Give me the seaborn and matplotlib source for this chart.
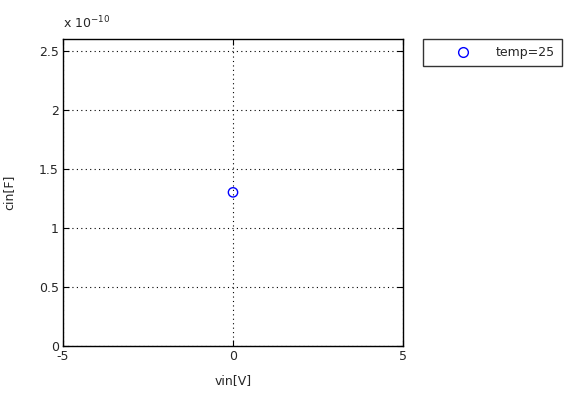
import matplotlib
matplotlib.use("Agg")
import matplotlib.pyplot as plt
import seaborn as sns
import pandas as pd
from matplotlib.ticker import FuncFormatter, MultipleLocator
from matplotlib.lines import Line2D

vin = [0.0]
cin = [1.3e-10]
series = ["temp=25"]

df = pd.DataFrame({"vin": vin, "cin": cin, "series": series})

sns.set_style("white")
plt.rcParams["font.family"] = ["DejaVu Sans"]

fig = plt.figure(figsize=(5.68, 3.96), dpi=100)
ax = fig.add_axes([63/568, 1 - 345.7/396, (403 - 63)/568, (345.7 - 39)/396])

sns.scatterplot(data=df, x="vin", y="cin", hue="series", palette=["#0000ff"],
                marker="o", s=45, linewidth=1.0, ax=ax, legend=False)
for coll in ax.collections:
    coll.set_facecolor("none")
    coll.set_edgecolor("#0000ff")

ax.set_xlim(-5, 5)
ax.set_ylim(0, 2.6e-10)
ax.xaxis.set_major_locator(MultipleLocator(5))
ax.yaxis.set_major_locator(MultipleLocator(0.5e-10))
ax.yaxis.set_major_formatter(FuncFormatter(lambda v, p: f"{v/1e-10:g}"))
ax.xaxis.set_major_formatter(FuncFormatter(lambda v, p: f"{v:g}"))
ax.xaxis.get_offset_text().set_visible(False)
ax.yaxis.get_offset_text().set_visible(False)
ax.grid(True, color="black", linestyle=(0, (1, 3)), linewidth=0.8)
for s in ax.spines.values():
    s.set_color("black")
    s.set_linewidth(1.0)
ax.tick_params(direction="in", length=4, color="black", labelsize=9,
               top=True, right=True, bottom=True, left=True)
ax.tick_params(axis="x", pad=3)
ax.tick_params(axis="y", pad=3)
ax.set_xlabel("vin[V]", fontsize=9, labelpad=8)
ax.set_ylabel("cin[F]", fontsize=9, labelpad=17)
ax.text(0.0, 1.025, r"x 10$^{-10}$", transform=ax.transAxes, fontsize=9,
        ha="left", va="bottom")

h = Line2D([], [], marker="o", linestyle="none", markerfacecolor="none",
           markeredgecolor="#0000ff", markersize=7, markeredgewidth=1.0)
leg = fig.legend([h], [series[0]], loc="upper left",
                 bbox_to_anchor=(423/568, 1 - 39/396), fontsize=9,
                 frameon=True, fancybox=False, edgecolor="black",
                 handletextpad=0.0, borderpad=0.55, handlelength=5.3,
                 borderaxespad=0)
leg.get_frame().set_linewidth(1.0)
fig.canvas.draw()
fb = leg.get_frame()
fb.set_width(566 - fb.get_x())

fig.savefig("out.png", dpi=100)
